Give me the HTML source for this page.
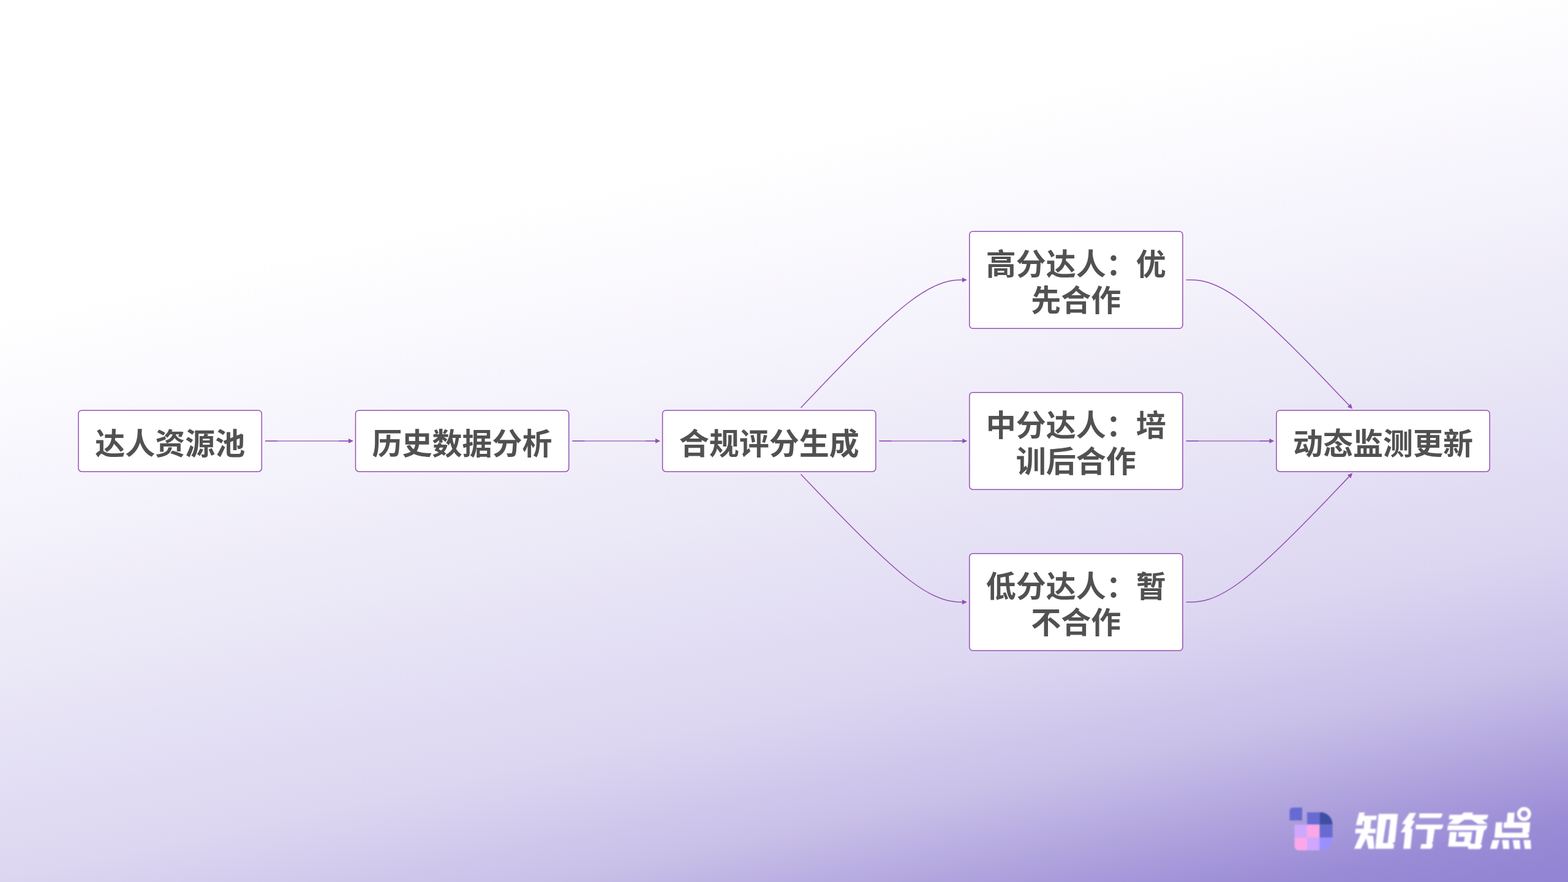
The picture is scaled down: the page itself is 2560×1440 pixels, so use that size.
<!DOCTYPE html>
<html lang="zh-CN">
<head>
<meta charset="utf-8">
<title>达人合规评分流程</title>
<style>
html,body{margin:0;padding:0;}
body{width:2560px;height:1440px;overflow:hidden;position:relative;font-family:"Liberation Sans",sans-serif;background:#fff;}
#bg{position:absolute;left:0;top:0;width:2560px;height:1440px;
background:linear-gradient(167.8deg,#ffffff 0%,#ffffff 26%,#f6f4fc 41%,#ebe8f7 55%,#dcd6f1 72%,#c9c0e8 82%,#ac9fdc 90%,#9a8bd6 95%,#9283d3 100%);}
svg{position:absolute;left:0;top:0;}
</style>
</head>
<body>
<div id="bg"></div>
<svg id="diagram" role="img" aria-label="达人合规评分流程图" width="2560" height="1440" viewBox="0 0 2560 1440">
<defs>
<filter id="soft" x="-5%" y="-10%" width="110%" height="120%"><feGaussianBlur stdDeviation="1.15"/></filter>
</defs>
<g id="nodes" fill="#ffffff" stroke="#9350B2" stroke-width="1.5">
<rect x="128" y="669.9" width="299.3" height="100.1" rx="5.5"><title>达人资源池</title></rect>
<rect x="580.5" y="669.9" width="348.2" height="100.1" rx="5.5"><title>历史数据分析</title></rect>
<rect x="1081.65" y="669.9" width="348.2" height="100.1" rx="5.5"><title>合规评分生成</title></rect>
<rect x="1582.8" y="377.7" width="348.1" height="158.6" rx="5.5"><title>高分达人：优先合作</title></rect>
<rect x="1582.8" y="640.65" width="348.1" height="158.6" rx="5.5"><title>中分达人：培训后合作</title></rect>
<rect x="1582.8" y="903.7" width="348.1" height="158.6" rx="5.5"><title>低分达人：暂不合作</title></rect>
<rect x="2083.95" y="669.9" width="348.2" height="100.1" rx="5.5"><title>动态监测更新</title></rect>
</g>
<g id="edges" fill="none" stroke="#9350B2" stroke-width="1.5">
<path d="M1307.45,665.7L1337.26,634.42C1371.07,598.93 1438.7,527.97 1485.26,492.48C1531.82,457 1557.31,457 1570.05,457L1571.9,457"/>
<path d="M1936.6,457L1943.65,457C1956.41,457 1981.92,457 2028.49,492.48C2075.07,527.97 2142.71,598.93 2176.53,634.42L2203.31,662.52"/>
<path d="M1307.43,774.2L1337.24,805.5C1371.06,841 1438.69,912 1485.25,947.5C1531.82,983 1557.31,983 1570.05,983L1571.9,983"/>
<path d="M1936.6,983L1943.65,983C1956.41,983 1981.92,983 2028.49,947.5C2075.07,912 2142.72,841 2176.54,805.5L2203.33,777.38"/>
</g>
<g id="edges-straight" fill="none" stroke="#9350B2" stroke-opacity="0.82" stroke-width="1.5">
<path d="M433,719.95H570"/>
<path d="M934.4,719.95H1071.15"/>
<path d="M1435.55,719.95H1572.3"/>
<path d="M1936.6,719.95H2073.45"/>
</g>
<g id="edge-ends" fill="none" stroke="#8E44AD" stroke-opacity="0.75" stroke-width="1.5">
<path d="M433,719.95h20M553,719.95H570"/>
<path d="M934.4,719.95h20M1054.15,719.95H1071.15"/>
<path d="M1435.55,719.95h20M1555.3,719.95H1572.3"/>
<path d="M1936.6,719.95h20M2056.45,719.95H2073.45"/>
</g>
<g id="arrowheads" fill="#9450B0">
<path d="M577,719.95L569,723.85L569,716.05Z"/>
<path d="M1078.15,719.95L1070.15,723.85L1070.15,716.05Z"/>
<path d="M1579.3,719.95L1571.3,723.85L1571.3,716.05Z"/>
<path d="M2080.45,719.95L2072.45,723.85L2072.45,716.05Z"/>
<path d="M1578.9,457L1570.9,460.9L1570.9,453.1Z"/>
<path d="M2208.14,667.58L2199.8,664.48L2205.44,659.1Z"/>
<path d="M1578.9,983L1570.9,986.9L1570.9,979.1Z"/>
<path d="M2208.16,772.32L2205.46,780.8L2199.81,775.42Z"/>
</g>
<g id="labels" fill="#515151" font-family='"Liberation Sans", "Noto Sans CJK SC", sans-serif' font-size="49" font-weight="bold" text-anchor="middle">
<text x="277.65" y="741.55">达人资源池</text>
<text x="754.6" y="741.55">历史数据分析</text>
<text x="1255.75" y="741.55">合规评分生成</text>
<text x="1756.85" y="448.85">高分达人：优</text>
<text x="1756.85" y="508.35">先合作</text>
<text x="1756.85" y="711.8">中分达人：培</text>
<text x="1756.85" y="771.3">训后合作</text>
<text x="1756.85" y="974.85">低分达人：暂</text>
<text x="1756.85" y="1034.35">不合作</text>
<text x="2258.05" y="741.55">动态监测更新</text>
</g>
<g id="logo" filter="url(#soft)">
<g id="logo-icon">
<path d="M2105.5,1339.6V1323.8A5.3,5.3 0 0 1 2110.8,1318.5H2126V1339.6Z" fill="#676BD2"/>
<rect x="2134" y="1326.2" width="20.4" height="20.2" fill="#676BD2"/>
<path d="M2154.4,1326.2H2156A19.5,19.5 0 0 1 2175.5,1345.7V1346.4H2154.4Z" fill="#3E4FA3"/>
<rect x="2113.5" y="1346.4" width="20.5" height="21.2" fill="#CFA7FD"/>
<rect x="2134" y="1346.4" width="20.4" height="21.2" fill="#FCA7E8"/>
<rect x="2154.4" y="1346.4" width="21.1" height="21.2" fill="#676BD2"/>
<path d="M2113.5,1367.6H2134V1388.3H2120.5A7,7 0 0 1 2113.5,1381.3Z" fill="#FCA7EA"/>
<rect x="2134" y="1367.6" width="20.4" height="20.7" fill="#CFA7FD"/>
<path d="M2154.4,1367.6H2175.5V1368.8A19.5,19.5 0 0 1 2156,1388.3H2154.4Z" fill="#9A90FD"/>
</g>
<g id="logo-text" fill="#ffffff"><title>知行奇点</title>
<path fill-rule="evenodd" d="M2219.1,1326.38L2228.34,1326.38L2226.98,1331.72L2247.79,1331.72L2246.91,1338.77L2238.65,1338.77L2237.48,1353.12L2246.43,1353.12L2245.6,1360.41L2233.69,1360.41L2233.2,1363.82L2241.95,1364.79L2243.9,1385.7L2234.17,1385.7L2230.53,1368.68L2221.77,1385.7L2210.83,1385.7L2222.02,1360.41L2212.29,1360.41L2213.27,1353.12L2226.39,1353.12L2227.46,1340.48L2225.18,1340.48L2223.72,1347.28L2213.75,1347.28Z"/>
<path fill-rule="evenodd" d="M2250.71,1328.81L2282.31,1328.81L2277.45,1374.76L2272.83,1376.94L2276.38,1378.65L2275.02,1385.7L2245.36,1385.7ZM2263.59,1338.05L2257.76,1376.21L2265.53,1376.21L2270.15,1338.05Z"/>
<path fill-rule="evenodd" d="M2301.39,1327.35L2312.09,1327.35L2305.28,1339.75L2309.9,1340.72L2302.85,1352.15L2306.26,1353.6L2302.85,1385.7L2291.18,1385.7L2294.1,1358.95L2286.81,1358.95L2295.07,1346.31L2289,1344.85Z"/>
<path fill-rule="evenodd" d="M2317.44,1328.08L2355.12,1328.08L2353.91,1333.18L2350.99,1335.61L2316.95,1335.61Z"/>
<path fill-rule="evenodd" d="M2311.6,1346.31L2356.34,1346.31L2355.12,1351.66L2352.45,1354.09L2342.48,1354.09L2339.08,1375.48L2337.13,1376.94L2339.56,1378.4L2338.35,1383.75L2335.92,1385.7L2318.9,1385.7L2320.36,1377.92L2328.62,1377.92L2330.57,1354.09L2311.12,1354.09Z"/>
<path fill-rule="evenodd" d="M2390.01,1326.62L2405.08,1326.62L2403.62,1330.27L2429.88,1330.27L2427.93,1337.07L2420.15,1338.53L2428.91,1345.44L2413.35,1345.44L2402.65,1338.14L2390.98,1338.14L2380.77,1345.44L2364.24,1345.44L2372.99,1337.56L2365.21,1337.56L2366.67,1330.27L2386.12,1330.27Z"/>
<path fill-rule="evenodd" d="M2364,1347.53L2428.42,1347.53L2426.96,1353.12L2424.04,1355.55L2423.07,1355.55L2418.21,1376.94L2416.51,1377.92L2419.67,1379.37L2418.7,1383.75L2415.78,1386.18L2397.3,1386.18L2396.33,1382.29L2401.68,1377.43L2408,1377.43L2410.43,1355.55L2362.78,1355.55Z"/>
<path fill-rule="evenodd" d="M2366.91,1358.22L2403.62,1358.22L2401.58,1372.81L2398.76,1373.93L2401.43,1375.48L2400.71,1382.29L2364.24,1382.29ZM2378.34,1358.47L2377.61,1366.34L2376.64,1374.27L2390.25,1374.27L2391.47,1366.34L2380.77,1366.34L2381.5,1358.47Z"/>
<path fill-rule="evenodd" d="M2461.39,1326.67L2472.78,1326.67L2471.56,1342.5L2498.33,1342.5L2496.78,1358.89L2493.06,1360.28L2496.67,1361.94L2495.44,1367.78L2439.72,1367.78L2442.22,1342.5L2459.89,1342.5ZM2452.78,1342.61L2452.06,1351.67L2452.22,1359.44L2485.28,1359.44L2486.11,1351.67L2454.72,1351.67L2455.44,1342.61Z"/>
<path fill-rule="evenodd" d="M2436.94,1371.39L2448.33,1371.39L2443.89,1386.11L2432.78,1386.11Z"/>
<path fill-rule="evenodd" d="M2452.22,1371.39L2463.33,1371.39L2464.17,1386.11L2454.17,1386.11Z"/>
<path fill-rule="evenodd" d="M2469.72,1371.39L2481.11,1371.39L2482.22,1386.11L2472.22,1386.11Z"/>
<path fill-rule="evenodd" d="M2487.22,1371.39L2498.89,1371.39L2499.72,1386.11L2489.44,1386.11Z"/><circle cx="2488.33" cy="1328.89" r="8.5" fill="none" stroke="#fff" stroke-width="5.8"/>
</g>
</g>
</svg>
</body>
</html>
